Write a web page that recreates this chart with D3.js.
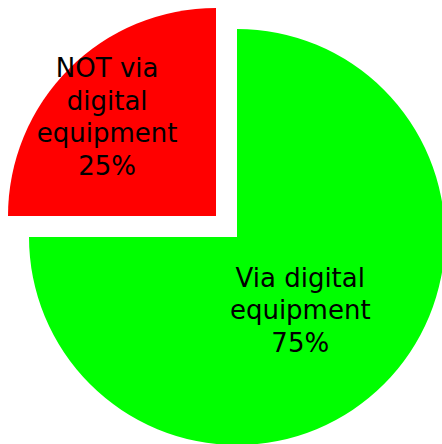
<!DOCTYPE html>
<html>
<head>
<meta charset="utf-8">
<script src="https://cdn.jsdelivr.net/npm/d3@7"></script>
<style>
  body { margin: 0; background: #fff; }
  svg { display: block; }
</style>
</head>
<body>
<div id="chart"></div>
<script>
var svgWidth = 442;
var svgHeight = 444;

// chart data
var categories = ["Via digital equipment", "NOT via digital equipment"];
var values = [75, 25];
var pctLabels = ["75%", "25%"];
var colors = ["#00ff00", "#ff0000"];

// label lines (category wrapped + percent)
var labelLines = [
  ["Via digital", "equipment", "75%"],
  ["NOT via", "digital", "equipment", "25%"]
];

var cx = 226.5, cy = 226.5;
var radius = 208;
var explode = 14.85;
var labelFrac = [0.43, 0.74];
var lineH = 32.5;

var svg = d3.select("#chart")
  .append("svg")
  .attr("width", svgWidth)
  .attr("height", svgHeight);

var pie = d3.pie()
  .sort(null)
  .value(d => d);

var arcs = pie(values);

var arc = d3.arc()
  .innerRadius(0)
  .outerRadius(radius);

var chartGroup = svg.append("g")
  .attr("transform", `translate(${cx}, ${cy})`);

var slices = chartGroup.selectAll("g.slice")
  .data(arcs)
  .enter()
  .append("g")
  .attr("class", "slice")
  .attr("transform", function(d) {
    var mid = (d.startAngle + d.endAngle) / 2;
    return `translate(${Math.sin(mid) * explode}, ${-Math.cos(mid) * explode})`;
  });

slices.append("path")
  .attr("d", arc)
  .attr("fill", (d, i) => colors[i]);

// labels at the slice bisector
slices.each(function(d, i) {
  var r = radius * labelFrac[i];
  var labelArc = d3.arc().innerRadius(r).outerRadius(r);
  var c = labelArc.centroid(d);
  var lines = labelLines[i];
  var first = 19 - (lines.length - 1) / 2 * lineH;
  var text = d3.select(this).append("text")
    .attr("x", c[0])
    .attr("y", c[1])
    .attr("text-anchor", "middle")
    .attr("font-family", "'DejaVu Sans', sans-serif")
    .attr("font-size", 26)
    .attr("fill", "#000");
  lines.forEach(function(line, j) {
    text.append("tspan")
      .attr("x", c[0])
      .attr("y", c[1] + first + j * lineH)
      .text(line);
  });
});
</script>
</body>
</html>
